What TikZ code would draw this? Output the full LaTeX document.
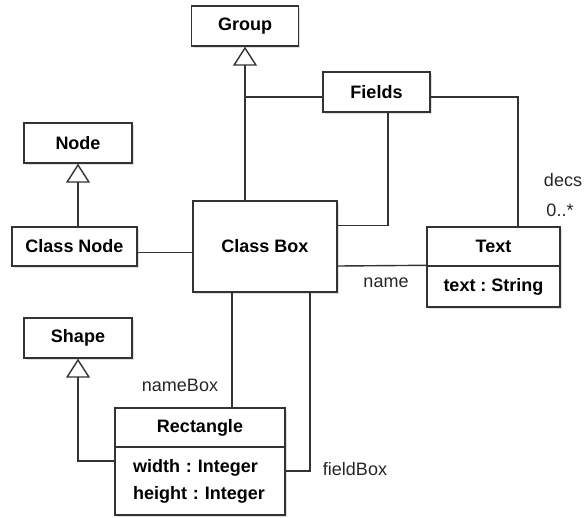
\documentclass[tikz,border=0pt]{standalone}
\usepackage{fontspec}
\setmainfont{Liberation Sans}
\usetikzlibrary{arrows.meta,calc,shadows}
\definecolor{ln}{HTML}{333333}
\frenchspacing
\begin{document}
\begin{tikzpicture}[x=1pt,y=-1pt,
  font=\fontsize{18}{22}\selectfont,
  cls/.style={draw=ln,line width=1.4pt,fill=white,inner sep=0pt,
    minimum width=#1,
    drop shadow={shadow xshift=1.5pt,shadow yshift=-1.5pt,opacity=0.25},
    font=\fontsize{18}{22}\selectfont\bfseries},
  cls/.default=108pt,
  conn/.style={draw=ln,line width=1.4pt},
  gen/.style={conn,-{Triangle[open,length=19pt,width=24pt,line width=1.4pt]}},
  lbl/.style={inner sep=0pt,text=black!85}]
\useasboundingbox (0,0) rectangle (586,517);
% class boxes
\node[cls=107pt,minimum height=40pt] (group) at (245,26) {Group};
\node[cls=107pt,minimum height=40pt] (fields) at (376.5,92) {Fields};
\node[cls=108pt,minimum height=40pt] (node) at (78,143) {Node};
\node[cls=125pt,minimum height=39pt] (classnode) at (74.5,246.5) {Class Node};
\node[cls=144pt,minimum height=91pt] (classbox) at (265,246.5) {Class Box};
\node[cls=133pt,minimum height=39pt] (texthead) at (493.5,246.5) {Text};
\node[cls=133pt,minimum height=41pt] (textbody) at (493.5,286.5) {text : String};
\node[cls=108pt,minimum height=40pt] (shape) at (78,338) {Shape};
\node[cls=170pt,minimum height=39pt] (recthead) at (200,427.5) {Rectangle};
\node[cls=170pt,minimum height=68pt,align=left,text width=134pt] (rectbody) at (200,481)
  {width : Integer\\[5pt]height : Integer};
% generalisations
\draw[gen] ($(classbox.north)+(-20,0)$) -- (group.south);
\draw[conn] (group.south |- {$(fields.west)+(0,5)$}) -- ($(fields.west)+(0,5)$);
\draw[gen] (node.south |- classnode.north) -- (node.south);
\draw[gen] ($(rectbody.west)+(0,-20)$) -| (shape.south);
% associations
\draw[conn] ($(fields.east)+(0,5)$) -| ($(texthead.north)+(24.5,0)$);
\draw[conn] ($(fields.south)+(11.5,0)$) |- ($(classbox.north east)+(0,25)$);
\draw[conn] ($(classnode.east)+(0,6)$) -- ($(classbox.west)+(0,6)$);
\draw[conn] ($(classbox.east)+(0,19.5)$) -- (textbody.north west);
\draw[conn] ($(classbox.south)+(-33,0)$) coordinate (nb) -- (nb |- recthead.north);
\draw[conn] ($(classbox.south)+(45,0)$) |- ($(rectbody.east)+(0,-10)$);
% labels
\node[lbl] (lname) at (386,283) {name};
\node[lbl] (ldecs) at (563,180) {decs};
\node[lbl] (lmult) at (560,210) {0..*};
\node[lbl] (lnamebox) at (180,385) {nameBox};
\node[lbl] (lfieldbox) at (355,469) {fieldBox};
\end{tikzpicture}
\end{document}
